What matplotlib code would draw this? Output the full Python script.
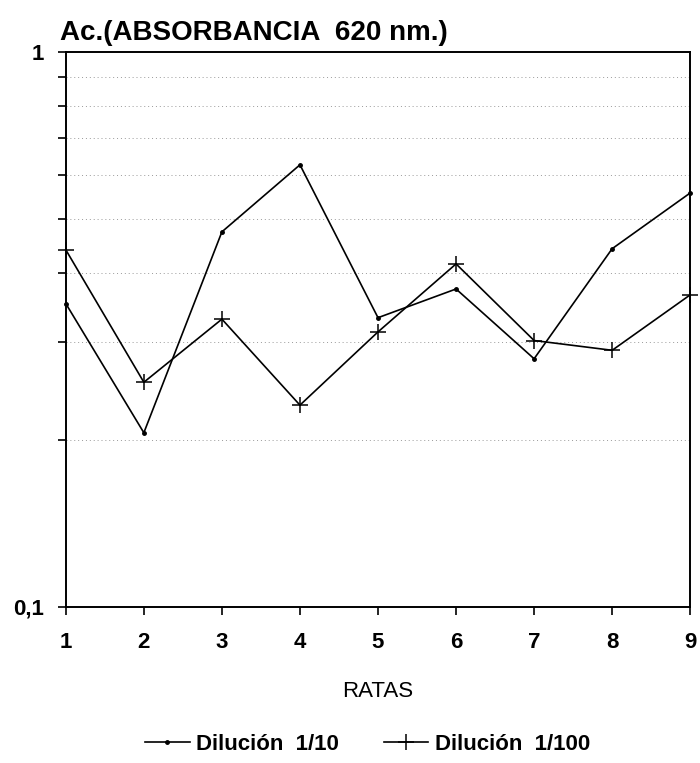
#
# Absorbancia 620 nm por rata
#

import numpy as np
import matplotlib.pyplot as plt
from matplotlib.ticker import FixedLocator, NullFormatter

plt.rcParams['font.family'] = ['Liberation Sans', 'DejaVu Sans']

# Datos
ratas = [1, 2, 3, 4, 5, 6, 7, 8, 9]
dil_10 = [0.352, 0.206, 0.474, 0.626, 0.332, 0.374, 0.280, 0.442, 0.557]
dil_100 = [0.440, 0.254, 0.330, 0.231, 0.313, 0.415, 0.302, 0.290, 0.365]
minor_y = [0.2, 0.3, 0.4, 0.5, 0.6, 0.7, 0.8, 0.9]

fig = plt.figure(figsize=(7, 7.63), dpi=100)
ax = fig.add_axes([0.094, 0.2045, 0.892, 0.7275])

ax.plot(ratas, dil_10, color="black", lw=1.2, marker="o", ms=2.5,
        label="Dilución  1/10", clip_on=False)
ax.plot(ratas, dil_100, color="black", lw=1.2, marker="+", ms=12, mew=1.1,
        label="Dilución  1/100", clip_on=False)

ax.set_yscale("log")
ax.set_ylim(0.1, 1)
ax.set_xlim(1, 9)
ax.set_xticks(ratas)
ax.set_yticks([0.1, 1])
ax.set_yticklabels(["0,1", "1"])
ax.yaxis.set_minor_locator(FixedLocator(minor_y))
ax.yaxis.set_minor_formatter(NullFormatter())
ax.grid(True, which="minor", axis="y", color="#999999", ls=(0, (1, 3)), lw=0.7)

ax.tick_params(axis="both", which="major", labelsize=16, length=6, width=1.2,
               direction="out")
ax.tick_params(axis="x", which="major", pad=12)
ax.tick_params(axis="y", which="major", pad=10)
ax.tick_params(axis="y", which="minor", length=6, width=1.2)
for lab in ax.get_xticklabels() + ax.get_yticklabels():
    lab.set_fontweight("bold")
for s in ax.spines.values():
    s.set_linewidth(1.4)

ax.set_xlabel("RATAS", fontsize=16, labelpad=20)
fig.text(0.086, 0.94, "Ac.(ABSORBANCIA  620 nm.)", fontsize=20,
         fontweight="bold", ha="left", va="bottom")

fig.legend(loc="center", bbox_to_anchor=(0.525, 0.024), ncol=2,
           frameon=False, handlelength=2.0, columnspacing=2.0,
           handletextpad=0.3, prop={"weight": "bold", "size": 16})

plt.savefig("out.png")
